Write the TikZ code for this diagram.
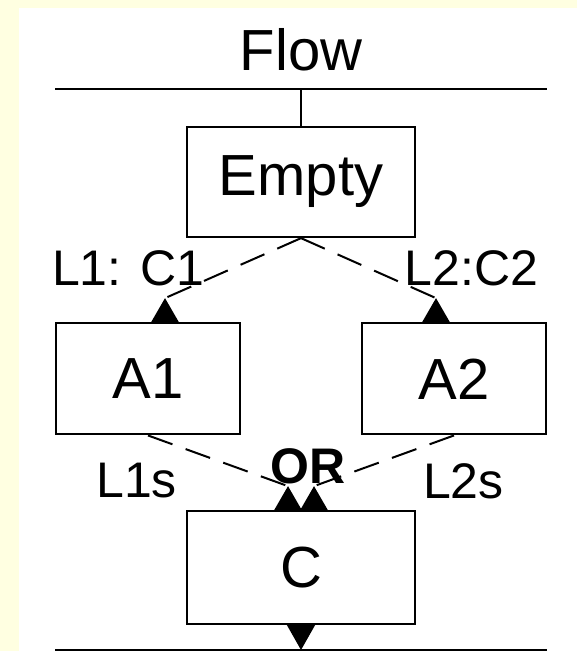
\documentclass[tikz,border=0pt]{standalone}
\usepackage{fontspec}
\setmainfont{Liberation Sans}
\usetikzlibrary{arrows.meta,positioning,shapes.geometric}
\definecolor{pageyellow}{RGB}{255,255,225}

\begin{document}
\begin{tikzpicture}[x=0.5pt, y=0.5pt,
  box/.style={draw, line width=1.15pt, fill=white, inner sep=0pt, font=\fontsize{29}{34}\selectfont},
  lbl/.style={inner sep=0pt, font=\fontsize{25}{30}\selectfont},
  flowline/.style={draw, dash pattern=on 13pt off 7pt, line width=1pt},
  port/.style={regular polygon, regular polygon sides=3, fill=black, minimum size=16pt, inner sep=0pt, outer sep=0pt}]
\useasboundingbox (0,0) rectangle (577,651);
\fill[pageyellow] (0,0) rectangle (577,651);
\fill[white] (19,0) rectangle (577,643);
% bus lines
\coordinate (busL) at (55,562); \coordinate (busR) at (547,562);
\coordinate (outL) at (55,1); \coordinate (outR) at (547,1);
\draw[line width=1.3pt] (busL) -- (busR);
\draw[line width=1.3pt] (outL) -- (outR);
\node[lbl, font=\fontsize{29}{34}\selectfont] (flow) at (301,601) {Flow};
% boxes
\node[box, minimum width=114pt, minimum height=55pt] (empty) at (301,469) {Empty};
\node[box, minimum width=92pt, minimum height=55.5pt, below=42pt of empty.south, xshift=-76.5pt] (a1) {A1};
\node[box, minimum width=92pt, minimum height=55.5pt, below=42pt of empty.south, xshift=76.5pt] (a2) {A2};
\node[box, minimum width=114pt, minimum height=56.5pt, below=136pt of empty] (c) {C};
% ports
\node[port, anchor=south] (pa1) at ([xshift=8.5pt]a1.north) {};
\node[port, anchor=south] (pa2) at ([xshift=-9pt]a2.north) {};
\node[port, anchor=south] (pc1) at ([xshift=-6.5pt]c.north) {};
\node[port, anchor=south] (pc2) at ([xshift=6.5pt]c.north) {};
% connectors
\draw[line width=1.1pt] (empty.north) -- (empty.north |- busL);
\draw[flowline] (empty.south) -- node[lbl, midway, left=14pt] {L1: C1} (pa1.north);
\draw[flowline] (empty.south) -- node[lbl, midway, right=17.5pt] {L2:C2} (pa2.north);
\draw[flowline] (a1.south) -- node[lbl, midway, left=20pt, yshift=-10pt] {L1s} (pc1.north);
\draw[flowline] (a2.south) -- node[lbl, midway, right=19pt, yshift=-10pt] {L2s} (pc2.north);
\node[lbl, font=\bfseries\fontsize{25}{30}\selectfont, above=13pt of c.north, xshift=3.5pt] (or) {OR};
\draw[line width=0.9pt, -{Triangle[width=14.5pt,length=13pt]}] (c.south) -- (c.south |- outL);
\end{tikzpicture}
\end{document}
